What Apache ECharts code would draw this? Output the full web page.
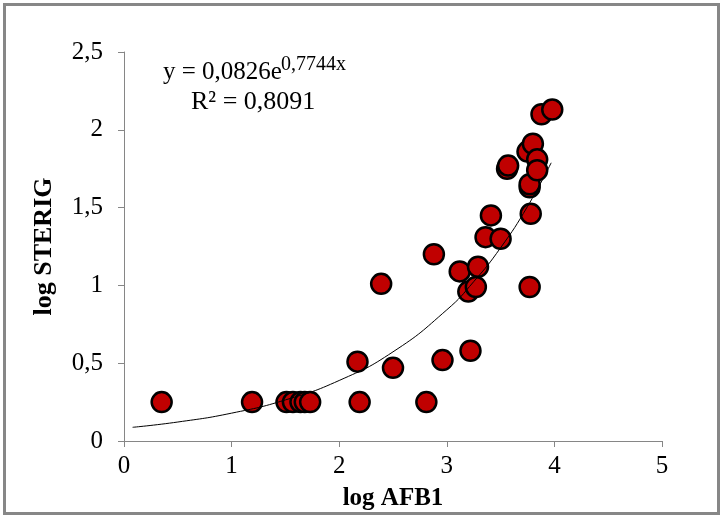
<!DOCTYPE html>
<html>
<head>
<meta charset="utf-8">
<script src="https://cdn.jsdelivr.net/npm/echarts@6/dist/echarts.min.js"></script>
<style>
html,body{margin:0;padding:0;background:#fff;}
#c{width:720px;height:517px;}
</style>
</head>
<body>
<div id="c"></div>
<script>
// Data
const xVals = [0.35, 1.19, 1.51, 1.57, 1.64, 1.68, 1.73, 2.19, 2.81, 2.17, 2.50, 2.96, 3.22, 2.39, 2.88, 3.12, 3.20, 3.27, 3.29, 3.36, 3.50, 3.41, 3.56, 3.57, 3.77, 3.78, 3.77, 3.77, 3.75, 3.80, 3.84, 3.84, 3.88, 3.98];
const yVals = [0.25, 0.25, 0.25, 0.25, 0.25, 0.25, 0.25, 0.25, 0.25, 0.51, 0.47, 0.52, 0.58, 1.01, 1.20, 1.09, 0.96, 0.99, 1.12, 1.31, 1.30, 1.45, 1.75, 1.77, 0.99, 1.46, 1.63, 1.65, 1.86, 1.91, 1.81, 1.74, 2.10, 2.13];
// Trendline points
const trendX = [0.08, 0.5, 1.0, 1.5, 2.0, 2.5, 3.0, 3.25, 3.5, 3.75, 3.97];
const trendY = [0.088, 0.122, 0.179, 0.264, 0.389, 0.573, 0.843, 1.024, 1.242, 1.507, 1.788];
const xTicks = ['0', '1', '2', '3', '4', '5'];
const yTicks = ['0', '0,5', '1', '1,5', '2', '2,5'];
const xTitle = 'log AFB1';
const yTitle = 'log STERIG';
const eqMain = 'y = 0,0826e';
const eqExp = '0,7744x';
const eqR2 = 'R² = 0,8091';

const chart = echarts.init(document.getElementById('c'), null, {renderer: 'canvas'});
const font = '"Liberation Serif", "Times New Roman", serif';
const axisGray = '#868686';

const option = {
  animation: false,
  backgroundColor: '#ffffff',
  grid: {left: 124, right: 58, top: 52, bottom: 76, containLabel: false},
  xAxis: {
    type: 'value', min: 0, max: 5, interval: 1,
    axisLine: {show: true, onZero: false, lineStyle: {color: axisGray, width: 1}},
    axisTick: {show: true, inside: false, length: 6, lineStyle: {color: axisGray}},
    splitLine: {show: false},
    axisLabel: {
      margin: 13, color: '#000', fontFamily: font, fontSize: 25,
      formatter: function (v) { return xTicks[Math.round(v)]; }
    },
    name: xTitle, nameLocation: 'middle', nameGap: 45,
    nameTextStyle: {color: '#000', fontFamily: font, fontSize: 25, fontWeight: 'bold'}
  },
  yAxis: {
    type: 'value', min: 0, max: 2.5, interval: 0.5,
    axisLine: {show: true, onZero: false, lineStyle: {color: axisGray, width: 1}},
    axisTick: {show: true, inside: false, length: 6, lineStyle: {color: axisGray}},
    splitLine: {show: false},
    axisLabel: {
      margin: 21, color: '#000', fontFamily: font, fontSize: 25,
      formatter: function (v) { return yTicks[Math.round(v * 2)]; }
    },
    name: yTitle, nameLocation: 'middle', nameGap: 67, nameRotate: 90,
    nameTextStyle: {color: '#000', fontFamily: font, fontSize: 26, fontWeight: 'bold'}
  },
  series: [
    {
      type: 'line',
      data: trendX.map((x, i) => [x, trendY[i]]),
      smooth: true,
      showSymbol: false,
      lineStyle: {color: '#000', width: 1},
      z: 3
    },
    {
      type: 'scatter',
      data: xVals.map((x, i) => [x, yVals[i]]),
      symbol: 'circle',
      symbolSize: 20,
      itemStyle: {color: '#C00000', borderColor: '#000', borderWidth: 2.5, opacity: 1},
      z: 2
    }
  ],
  graphic: [
    {type: 'rect', shape: {x: 4.5, y: 4.5, width: 714, height: 509}, style: {fill: null, stroke: '#878787', lineWidth: 3}, silent: true},
    {type: 'text', left: 163, top: 60, style: {text: eqMain, font: '25px ' + font, fill: '#000'}},
    {type: 'text', left: 281, top: 55, style: {text: eqExp, font: '20px ' + font, fill: '#000'}},
    {type: 'text', left: 191, top: 89, style: {text: eqR2, font: '26px ' + font, fill: '#000'}}
  ]
};
chart.setOption(option);
</script>
</body>
</html>
